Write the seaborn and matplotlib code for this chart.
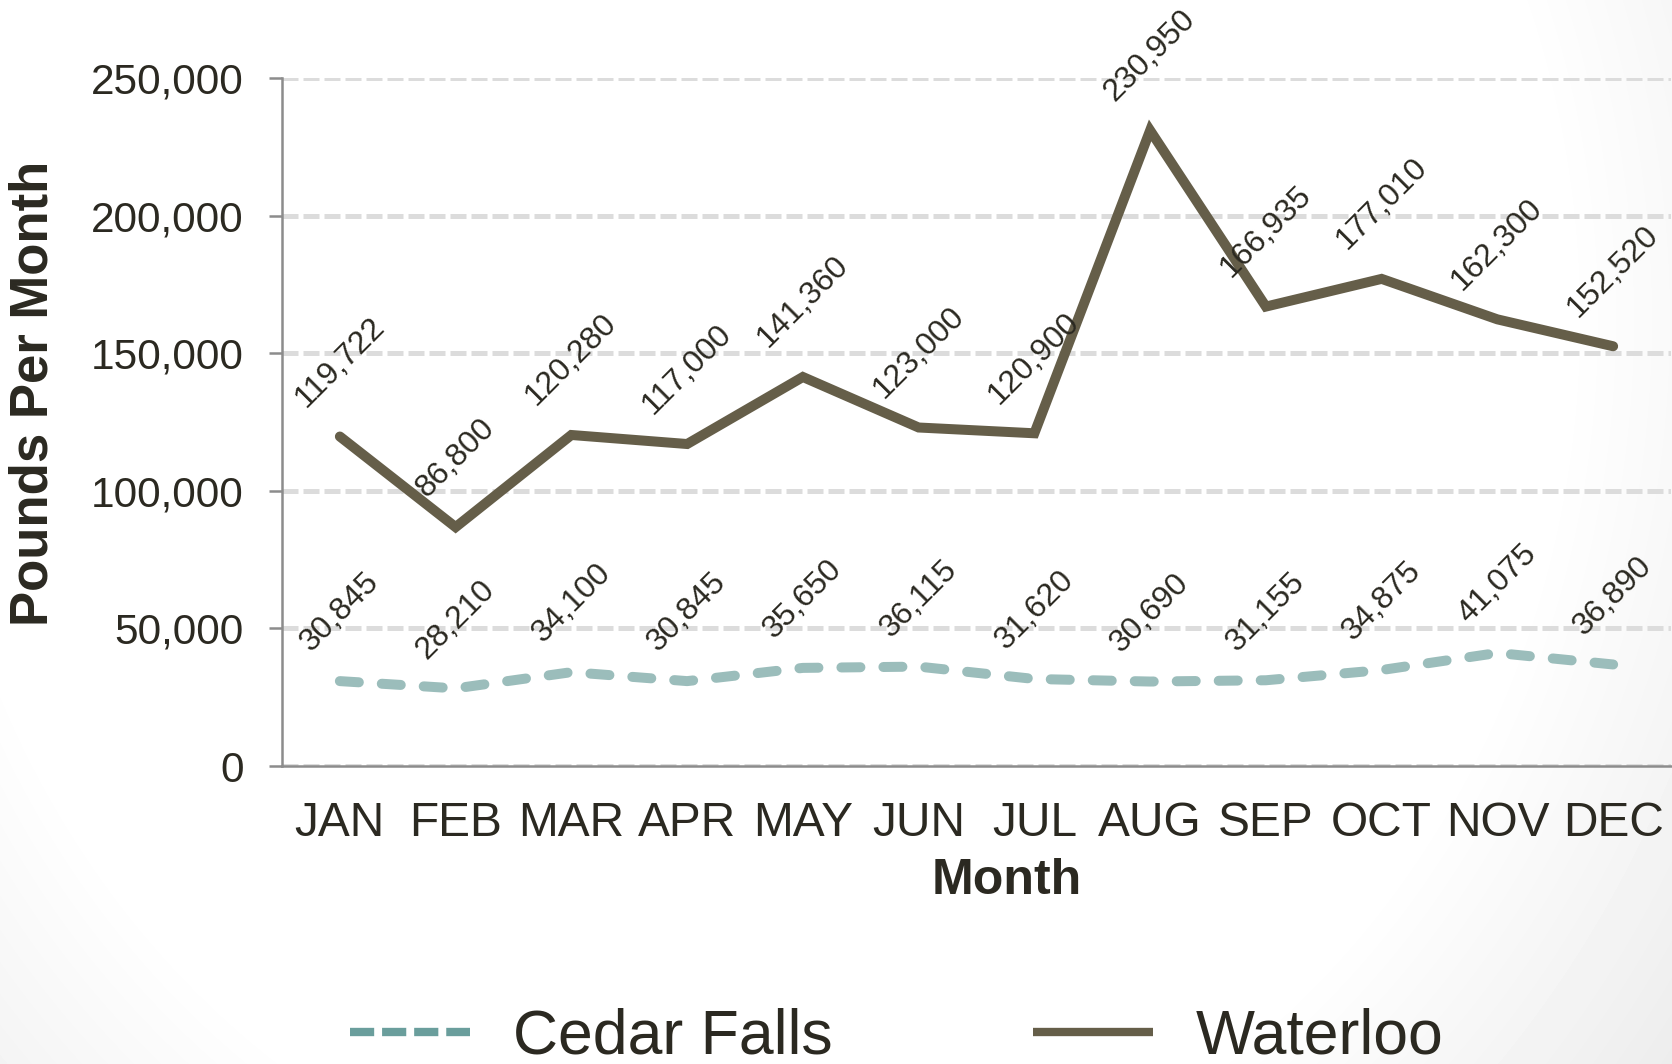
import numpy as np
import pandas as pd
import matplotlib
matplotlib.use("Agg")
import matplotlib.pyplot as plt
from matplotlib.lines import Line2D
import seaborn as sns

# ---- data ----
months = ["JAN", "FEB", "MAR", "APR", "MAY", "JUN", "JUL", "AUG", "SEP", "OCT", "NOV", "DEC"]
waterloo = [119722, 86800, 120280, 117000, 141360, 123000, 120900, 230950, 166935, 177010, 162300, 152520]
cedar_falls = [30845, 28210, 34100, 30845, 35650, 36115, 31620, 30690, 31155, 34875, 41075, 36890]
y_ticks = [0, 50000, 100000, 150000, 200000, 250000]
series_names = ["Cedar Falls", "Waterloo"]

# ---- style ----
sns.set_theme(style="white")
plt.rcParams['font.family'] = ['Liberation Sans', 'DejaVu Sans']
TEXT = "#2B2921"
WATERLOO_C = "#655E49"
CEDAR_C = "#9BBDBB"
CEDAR_LEG = "#6A9E9C"
GRID_C = "#DCDCDC"
SPINE_C = "#8C8C8C"

W, H, DPI = 1672, 1064, 100
fig = plt.figure(figsize=(W / DPI, H / DPI), dpi=DPI, facecolor="white")

# subtle vignette background (grey toward right edge and bottom-left corner)
yy, xx = np.mgrid[0:H, 0:W]
u = (xx - 0.45 * W) / (0.55 * W)
v = (yy - 0.30 * H) / (0.95 * H)
r = np.sqrt(u ** 2 + v ** 2)
shade = np.clip((r - 0.88) / 0.40, 0, 1) * 0.08
bg = 1.0 - shade
fig.figimage(bg, xo=0, yo=0, cmap="gray", vmin=0, vmax=1, origin="upper", zorder=-10)

ax = fig.add_axes([282 / W, 1 - 766 / H, (1671 - 282) / W, (766 - 78) / H])
ax.set_facecolor("none")

df = pd.DataFrame({"idx": np.arange(len(months)), "Month": months,
                   "Waterloo": waterloo, "Cedar Falls": cedar_falls})

sns.lineplot(data=df, x="idx", y="Cedar Falls", ax=ax, color=CEDAR_C, linewidth=7.2,
             dashes=False, legend=False, zorder=3)
cl = ax.lines[-1]
cl.set_dashes((1.9, 2.3))
cl.set_dash_capstyle("round")
cl.set_solid_joinstyle("round")

sns.lineplot(data=df, x="idx", y="Waterloo", ax=ax, color=WATERLOO_C, linewidth=7.2,
             legend=False, zorder=4)
wl = ax.lines[-1]
wl.set_solid_capstyle("round")
wl.set_solid_joinstyle("miter")

# data labels
for i, val in enumerate(waterloo):
    ax.annotate(f"{val:,}", xy=(i, val), xytext=(0, 17), textcoords="offset points",
                ha="center", va="bottom", rotation=45, fontsize=23, color=TEXT, zorder=6)
for i, val in enumerate(cedar_falls):
    ax.annotate(f"{val:,}", xy=(i, val), xytext=(0, 17), textcoords="offset points",
                ha="center", va="bottom", rotation=45, fontsize=23, color=TEXT, zorder=6)

# axes
ax.set_xlim(-0.5, len(months) - 0.5)
ax.set_ylim(0, 250000)
ax.set_yticks(y_ticks)
ax.set_yticklabels([f"{t:,}" for t in y_ticks])
ax.set_xticks(np.arange(len(months)))
ax.set_xticklabels(months)

ax.yaxis.grid(True, color=GRID_C, linewidth=3.6, linestyle=(0, (3.2, 1.0)), zorder=0)
ax.xaxis.grid(False)
ax.set_axisbelow(True)

for s in ["top", "right"]:
    ax.spines[s].set_visible(False)
for s in ["left", "bottom"]:
    ax.spines[s].set_color(SPINE_C)
    ax.spines[s].set_linewidth(1.8)
    ax.spines[s].set_zorder(2)

ax.tick_params(axis="y", which="major", length=9.5, width=1.8, color=SPINE_C,
               labelsize=30.5, labelcolor=TEXT, pad=18, left=True)
ax.tick_params(axis="x", which="major", length=0, labelsize=34.5, labelcolor=TEXT, pad=25)

ax.set_xlabel("Month", fontsize=36, fontweight="bold", color=TEXT, va="center", ha="center")
ax.xaxis.set_label_coords((1007 - 282) / (1671 - 282), (766 - 881) / (766 - 78))
ax.set_ylabel("Pounds Per Month", fontsize=38, fontweight="bold", color=TEXT,
              va="center", ha="center")
ax.yaxis.set_label_coords((34 - 282) / (1671 - 282), (766 - 393) / (766 - 78))

# legend
handles = [
    Line2D([0], [0], color=CEDAR_LEG, linewidth=6.0, dashes=(2.9, 0.95),
           dash_capstyle="butt"),
    Line2D([0], [0], color=WATERLOO_C, linewidth=6.0, solid_capstyle="butt"),
]
fig.legend(handles, series_names, loc="center", bbox_to_anchor=(897 / W, 1 - 1037 / H),
           ncol=2, frameon=False, fontsize=45, handlelength=1.92, handletextpad=0.69,
           columnspacing=3.2, borderpad=0, labelcolor=TEXT)

fig.savefig("out.png", dpi=DPI, facecolor=fig.get_facecolor())
